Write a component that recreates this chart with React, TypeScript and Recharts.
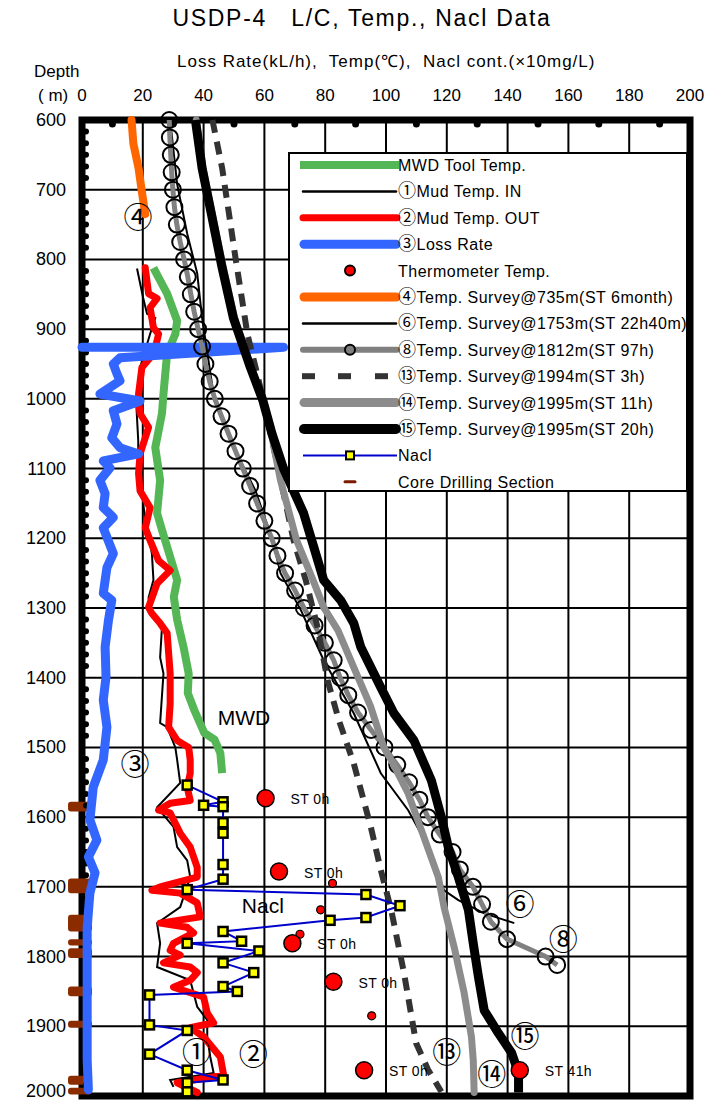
import React from "react";
import {
  CartesianGrid,
  ReferenceArea,
  ReferenceDot,
  Scatter,
  ScatterChart,
  XAxis,
  YAxis,
} from "recharts";

const xTicks = [0, 20, 40, 60, 80, 100, 120, 140, 160, 180, 200];
const yTicks = [600, 700, 800, 900, 1000, 1100, 1200, 1300, 1400, 1500, 1600, 1700, 1800, 1900, 2000];

const mwdTool = [
  [812, 23.5], [849, 28.0], [888, 31.3], [907, 30.7], [935, 28.0], [993, 26.8], [1021, 26.3],
  [1070, 24.1], [1117, 25.7], [1164, 24.7], [1188, 26.3], [1221, 28.6], [1260, 31.3], [1284, 30.2],
  [1317, 31.3], [1356, 33.4], [1394, 35.1], [1422, 34.8], [1446, 36.9], [1479, 40.2], [1489, 43.6],
  [1508, 45.5], [1537, 46.1],
];

const mudIn = [
  [813, 18.1], [855, 20.1], [878, 21.4], [884, 24.1], [907, 22.4], [955, 19.1], [1003, 17.8],
  [1060, 18.5], [1107, 18.5], [1132, 19.7], [1175, 20.8], [1222, 23.0], [1260, 23.5], [1285, 21.9],
  [1308, 22.4], [1328, 26.3], [1371, 25.7], [1394, 26.8], [1465, 25.7], [1471, 28.0], [1500, 30.7],
  [1518, 31.3], [1551, 32.3], [1586, 24.7], [1614, 30.1], [1643, 31.3], [1662, 34.6], [1686, 35.6],
  [1729, 32.3], [1752, 24.7], [1781, 25.7], [1815, 24.7], [1834, 35.6], [1872, 37.9], [1891, 41.2],
  [1915, 41.2], [1944, 42.2], [1967, 43.3], [1977, 29.0], [1987, 30.1],
];

const mudOut = [
  [812, 20.8], [849, 21.9], [856, 24.7], [869, 22.4], [898, 23.5], [907, 25.2], [927, 24.1],
  [941, 22.4], [955, 19.7], [993, 18.6], [1003, 18.6], [1021, 19.1], [1041, 21.9], [1079, 19.1],
  [1107, 18.6], [1132, 19.1], [1156, 22.4], [1185, 20.8], [1203, 22.4], [1232, 25.2], [1246, 29.0],
  [1265, 24.7], [1299, 21.9], [1308, 23.0], [1322, 25.7], [1336, 28.0], [1394, 29.0], [1437, 29.0],
  [1471, 28.5], [1490, 31.3], [1500, 35.1], [1518, 35.6], [1537, 35.6], [1557, 34.6], [1576, 35.6],
  [1580, 29.0], [1590, 25.2], [1594, 29.0], [1623, 32.3], [1643, 35.6], [1672, 37.9], [1686, 37.9],
  [1700, 25.7], [1705, 23.0], [1709, 32.3], [1723, 37.9], [1743, 38.9], [1752, 25.7], [1758, 34.6],
  [1766, 36.7], [1781, 30.1], [1791, 29.0], [1798, 32.3], [1809, 26.8], [1815, 35.6], [1823, 37.9],
  [1834, 35.6], [1844, 30.1], [1858, 40.0], [1881, 41.2], [1895, 43.3], [1902, 35.6], [1915, 40.0],
  [1944, 45.5], [1970, 46.6], [1981, 31.3], [1995, 37.9],
];

const lossRate = [
  [926, 0], [926, 66.3], [941, 12.5], [950, 10.3], [964, 11.5], [974, 12.5], [993, 5.9],
  [1003, 19.1], [1017, 10.3], [1036, 11.5], [1056, 9.8], [1070, 12.5], [1079, 18.6], [1089, 7.0],
  [1099, 9.2], [1117, 5.9], [1136, 7.6], [1156, 7.0], [1170, 10.3], [1185, 7.0], [1222, 10.3],
  [1242, 8.2], [1279, 7.0], [1289, 9.8], [1318, 8.7], [1356, 7.6], [1399, 7.9], [1432, 7.0],
  [1471, 8.2], [1518, 7.0], [1557, 3.7], [1604, 2.6], [1633, 4.9], [1657, 2.1], [1680, 4.3],
  [1709, 2.6], [1758, 1.7], [1948, 1.7], [1991, 2.1],
];

const thermoMain = [
  [1573, 60.4], [1678, 64.8], [1781, 69.2], [1836, 82.7], [1963, 92.8], [1963, 144.0],
];
const thermoLabels = ["ST 0h", "ST 0h", "ST 0h", "ST 0h", "ST 0h", "ST 41h"];
const thermoMinor = [
  [1695, 82.4], [1733, 78.5], [1768, 71.7], [1885, 95.3],
];

const survey735 = [
  [600, 16.3], [634, 16.9], [669, 18.6], [697, 19.5], [735, 20.8],
];

const survey1753 = [
  [600, 29.0], [692, 31.3], [763, 34.6], [820, 37.9], [884, 39.5], [1003, 43.6], [1060, 48.8],
  [1132, 57.1], [1203, 62.7], [1250, 65.3], [1303, 72.0], [1375, 79.5], [1451, 89.4], [1537, 98.3],
  [1590, 107.3], [1643, 113.9], [1705, 119.1], [1719, 123.8], [1738, 132.3], [1752, 142.2],
];

const survey1812 = [
  [600, 28.7], [625, 28.9], [650, 29.2], [675, 29.5], [700, 29.9], [725, 30.4], [750, 31.2],
  [775, 32.3], [800, 33.6], [825, 34.8], [850, 35.8], [875, 36.9], [900, 38.2], [925, 39.5],
  [950, 40.6], [975, 42.0], [1000, 43.7], [1025, 45.9], [1050, 48.2], [1075, 50.5], [1100, 52.9],
  [1125, 55.3], [1150, 57.6], [1175, 60.0], [1200, 62.4], [1225, 64.3], [1250, 66.8], [1275, 70.1],
  [1300, 73.0], [1325, 76.5], [1350, 79.9], [1375, 82.8], [1400, 84.9], [1425, 87.6], [1450, 90.8],
  [1475, 95.1], [1500, 99.5], [1525, 103.7], [1550, 107.6], [1575, 111.0], [1600, 113.8],
  [1625, 117.7], [1650, 121.9], [1675, 124.3], [1700, 128.6], [1725, 131.6], [1750, 134.5],
  [1775, 139.8], [1800, 152.5], [1812, 156.3],
];

const survey1994 = [
  [600, 42.9], [669, 46.1], [730, 48.2], [798, 50.5], [859, 52.7], [907, 54.4], [955, 57.1],
  [1003, 59.7], [1103, 64.7], [1203, 69.6], [1260, 73.6], [1328, 77.5], [1404, 80.8], [1461, 84.5],
  [1523, 89.4], [1614, 95.0], [1676, 98.3], [1733, 101.7], [1823, 105.9], [1924, 109.9],
  [1962, 113.8], [1994, 118.2],
];

const survey1995at11h = [
  [600, 37.6], [669, 39.8], [740, 43.1], [812, 46.5], [884, 50.2], [955, 55.6], [1001, 59.5],
  [1050, 62.3], [1117, 65.3], [1203, 70.6], [1260, 76.0], [1299, 79.5], [1332, 84.2], [1385, 89.4],
  [1442, 95.0], [1500, 99.3], [1518, 101.7], [1566, 107.3], [1629, 112.5], [1686, 117.2],
  [1729, 119.1], [1786, 122.4], [1852, 125.7], [1915, 128.1], [1948, 128.7], [1995, 129.0],
];

const survey1995at20h = [
  [600, 37.3], [669, 39.5], [740, 42.8], [812, 46.1], [884, 49.8], [955, 55.4], [1001, 59.4],
  [1050, 62.5], [1100, 66.3], [1164, 72.9], [1212, 76.2], [1260, 79.5], [1289, 85.1], [1322, 89.4],
  [1356, 91.7], [1414, 98.3], [1451, 102.6], [1490, 109.2], [1547, 114.9], [1600, 118.2],
  [1643, 120.5], [1686, 123.8], [1733, 127.1], [1781, 128.7], [1829, 130.4], [1877, 132.3],
  [1910, 137.0], [1938, 141.3], [1967, 143.6], [1995, 143.6],
];

const nacl = [
  [1554, 34.6], [1578, 46.4], [1583, 40.0], [1585, 46.4], [1608, 46.4], [1623, 46.4], [1668, 46.4],
  [1689, 46.4], [1704, 34.6], [1711, 93.4], [1727, 104.6], [1744, 93.4], [1748, 81.6], [1764, 46.4],
  [1778, 52.5], [1781, 34.6], [1792, 58.2], [1809, 46.4], [1823, 56.5], [1843, 46.4], [1850, 51.1],
  [1855, 22.2], [1898, 22.2], [1906, 34.6], [1940, 22.2], [1963, 34.6], [1977, 46.4], [1981, 34.6],
  [1994, 34.6],
];

// core drilling intervals [top, bottom] in m
const coreSections = [
  [1578, 1592], [1688, 1709], [1740, 1764], [1775, 1784], [1788, 1802], [1843, 1857],
  [1892, 1902], [1971, 1984], [1988, 1998],
];

// curve labels: [value, depth, text]
const notes: [number, number, string][] = [
  [18.4, 741, "④"], [17.4, 1525, "③"], [37.7, 1939, "①"], [56.3, 1941, "②"],
  [144.1, 1726, "⑥"], [158.3, 1776, "⑧"], [145.7, 1915, "⑮"], [120.0, 1939, "⑬"],
  [134.8, 1970, "⑭"],
];
const words: [number, number, string][] = [
  [53.3, 1457, "MWD"], [59.5, 1726, "Nacl"],
];

const topBumps = [10, 30, 50, 70, 90, 110, 130, 150, 170, 190];
const leftBumps = Array.from({ length: 84 }, (_, i) => 600 + (i * 100) / 6).filter(
  (d) => d % 100 !== 0
);

const toPts = (rows: number[][]) => rows.map(([d, v]) => ({ d, v }));

const FONT = "'Liberation Sans', Arial, sans-serif";
const CIRCLED = "'Noto Sans CJK JP', 'DejaVu Sans', sans-serif";

const NoDot = () => <g />;
const RingDot = (p: any) => (
  <circle cx={p.cx} cy={p.cy} r={8} fill="none" stroke="#000" strokeWidth={2} />
);
const NaclDot = (p: any) => (
  <rect x={p.cx - 4.5} y={p.cy - 4.5} width={9} height={9} fill="#ffff00" stroke="#000" strokeWidth={2.5} />
);
const ThermoBig = (p: any) => (
  <g>
    <circle cx={p.cx} cy={p.cy} r={8.5} fill="#ff0000" stroke="#000" strokeWidth={1.5} />
    <text x={p.cx + 25} y={p.cy + 6} fontSize={14} fontFamily={FONT} fill="#000" letterSpacing={0.4}>
      {p.payload?.label}
    </text>
  </g>
);
const ThermoSmall = (p: any) => (
  <circle cx={p.cx} cy={p.cy} r={4} fill="#ff0000" stroke="#000" strokeWidth={1.2} />
);

const XTick = (p: any) => (
  <text x={p.x} y={101} textAnchor="middle" fontSize={17} fontFamily={FONT} fill="#000">
    {p.payload.value}
  </text>
);
const YTick = (p: any) => (
  <text x={66} y={Math.min(p.y + 6, 1097)} textAnchor="end" fontSize={18} fontFamily={FONT} fill="#000">
    {p.payload.value}
  </text>
);

const legendRows = [
  "MWD Tool Temp.",
  "①Mud Temp. IN",
  "②Mud Temp. OUT",
  "③Loss Rate",
  "Thermometer Temp.",
  "④Temp. Survey@735m(ST 6month)",
  "⑥Temp. Survey@1753m(ST 22h40m)",
  "⑧Temp. Survey@1812m(ST 97h)",
  "⑬Temp. Survey@1994m(ST 3h)",
  "⑭Temp. Survey@1995m(ST 11h)",
  "⑮Temp. Survey@1995m(ST 20h)",
  "Nacl",
  "Core Drilling Section",
];

// split a leading circled number so it can use a font with full-size glyphs
const LegendLabel = ({ label }: { label: string }) => {
  const first = label.charCodeAt(0);
  if (first >= 0x2460 && first <= 0x2473) {
    return (
      <>
        <tspan fontFamily={CIRCLED} fontSize={18}>{label[0]}</tspan>
        <tspan>{label.slice(1)}</tspan>
      </>
    );
  }
  return <>{label}</>;
};

function LegendBox() {
  const rowY = (i: number) => 11 + i * 26.4;
  const sample = (i: number) => {
    const y = rowY(i);
    switch (i) {
      case 0:
        return <line x1={10} x2={109} y1={y} y2={y} stroke="#55b655" strokeWidth={8} />;
      case 1:
      case 6:
        return <line x1={13} x2={106} y1={y} y2={y} stroke="#000" strokeWidth={2.5} strokeLinecap="round" />;
      case 2:
        return <line x1={13} x2={107} y1={y} y2={y} stroke="#ff0000" strokeWidth={7} strokeLinecap="round" />;
      case 3:
        return <line x1={14} x2={106} y1={y} y2={y} stroke="#3366ff" strokeWidth={9} strokeLinecap="round" />;
      case 4:
        return <circle cx={60} cy={y} r={5} fill="#ff0000" stroke="#000" strokeWidth={2} />;
      case 5:
        return <line x1={14} x2={106} y1={y} y2={y} stroke="#ff6600" strokeWidth={9} strokeLinecap="round" />;
      case 7:
        return (
          <g>
            <line x1={13} x2={107} y1={y} y2={y} stroke="#808080" strokeWidth={6} strokeLinecap="round" />
            <circle cx={60} cy={y} r={5} fill="#808080" stroke="#000" strokeWidth={2} />
          </g>
        );
      case 8:
        return (
          <g fill="#333">
            <rect x={12} y={y - 3} width={13} height={6} />
            <rect x={48} y={y - 3} width={13} height={6} />
            <rect x={85} y={y - 3} width={13} height={6} />
          </g>
        );
      case 9:
        return <line x1={14} x2={106} y1={y} y2={y} stroke="#8c8c8c" strokeWidth={9} strokeLinecap="round" />;
      case 10:
        return <line x1={14} x2={106} y1={y} y2={y} stroke="#000" strokeWidth={10} strokeLinecap="round" />;
      case 11:
        return (
          <g>
            <line x1={13} x2={107} y1={y} y2={y} stroke="#0000cc" strokeWidth={2} />
            <rect x={56} y={y - 4} width={8} height={8} fill="#ffff00" stroke="#000" strokeWidth={2} />
          </g>
        );
      default:
        return <line x1={55} x2={65} y1={y} y2={y} stroke="#7b1a00" strokeWidth={3} strokeLinecap="round" />;
    }
  };
  return (
    <div
      style={{
        position: "absolute",
        left: 288,
        top: 152,
        width: 400,
        height: 340,
        boxSizing: "border-box",
        border: "2px solid #000",
        background: "#fff",
      }}
    >
      <svg width={396} height={336} style={{ position: "absolute", left: 0, top: 0 }}>
        {legendRows.map((label, i) => (
          <g key={label}>
            {sample(i)}
            <text x={108} y={rowY(i) + 6} fontSize={16} fontFamily={FONT} letterSpacing={0.5} fill="#000">
              <LegendLabel label={label} />
            </text>
          </g>
        ))}
      </svg>
    </div>
  );
}

export default function App() {
  return (
    <div style={{ position: "absolute", left: 0, top: 0, width: 711, height: 1102, background: "#fff" }}>
      <div
        style={{
          position: "absolute",
          left: 0,
          width: 724,
          top: 5,
          textAlign: "center",
          fontFamily: FONT,
          fontSize: 23,
          letterSpacing: 1.7,
          whiteSpace: "pre",
        }}
      >
        {"USDP-4   L/C, Temp., Nacl Data"}
      </div>
      <div
        style={{
          position: "absolute",
          left: 177,
          top: 49,
          fontFamily: FONT,
          fontSize: 17,
          letterSpacing: 1,
          whiteSpace: "pre",
        }}
      >
        {"Loss Rate(kL/h),  Temp(℃),  Nacl cont.(×10mg/L)"}
      </div>
      <div style={{ position: "absolute", left: 34, top: 62, fontFamily: FONT, fontSize: 17 }}>Depth</div>
      <div style={{ position: "absolute", left: 38, top: 86, fontFamily: FONT, fontSize: 17, whiteSpace: "pre" }}>
        {"( m)"}
      </div>

      <ScatterChart width={711} height={1102} margin={{ top: 90, right: 21, bottom: 6, left: 0 }}>
        <CartesianGrid stroke="#000" strokeWidth={2} />
        <XAxis
          type="number"
          dataKey="v"
          domain={[0, 200]}
          ticks={xTicks}
          interval={0}
          orientation="top"
          height={30}
          axisLine={false}
          tickLine={false}
          tick={<XTick />}
        />
        <YAxis
          type="number"
          dataKey="d"
          domain={[600, 2000]}
          ticks={yTicks}
          interval={0}
          reversed
          width={82}
          axisLine={false}
          tickLine={false}
          tick={<YTick />}
        />

        <ReferenceArea x1={0} x2={200} y1={600} y2={2000} fill="none" stroke="#000" strokeWidth={7} ifOverflow="visible" />
        {topBumps.map((v) => (
          <ReferenceDot
            key={`t${v}`}
            x={v}
            y={600}
            ifOverflow="visible"
            shape={(p: any) => <circle cx={p.cx} cy={p.cy + 4} r={3.5} fill="#000" />}
          />
        ))}
        {leftBumps.map((d) => (
          <ReferenceDot
            key={`l${d}`}
            x={0}
            y={d}
            ifOverflow="visible"
            shape={(p: any) => <circle cx={p.cx + 4} cy={p.cy} r={3} fill="#000" />}
          />
        ))}

        <Scatter data={toPts(mwdTool)} shape={NoDot} isAnimationActive={false}
          line={{ stroke: "#55b655", strokeWidth: 8, strokeLinejoin: "miter" }} />
        <Scatter data={toPts(mudIn)} shape={NoDot} isAnimationActive={false}
          line={{ stroke: "#000", strokeWidth: 2 }} />
        <Scatter data={toPts(mudOut)} shape={NoDot} isAnimationActive={false}
          line={{ stroke: "#ff0000", strokeWidth: 7, strokeLinejoin: "round", strokeLinecap: "round" }} />
        <Scatter data={toPts(lossRate)} shape={NoDot} isAnimationActive={false}
          line={{ stroke: "#3366ff", strokeWidth: 9, strokeLinejoin: "round", strokeLinecap: "round" }} />
        <Scatter data={toPts(survey735)} shape={NoDot} isAnimationActive={false}
          line={{ stroke: "#ff6600", strokeWidth: 8, strokeLinejoin: "round", strokeLinecap: "round" }} />
        <Scatter data={toPts(survey1753)} shape={NoDot} isAnimationActive={false}
          line={{ stroke: "#000", strokeWidth: 2 }} />
        <Scatter data={toPts(survey1812)} shape={RingDot} isAnimationActive={false}
          line={{ stroke: "#808080", strokeWidth: 5, strokeLinejoin: "round" }} />
        <Scatter data={toPts(survey1994)} shape={NoDot} isAnimationActive={false}
          line={{ stroke: "#333", strokeWidth: 6, strokeDasharray: "13 9" }} />
        <Scatter data={toPts(survey1995at11h)} shape={NoDot} isAnimationActive={false}
          line={{ stroke: "#8c8c8c", strokeWidth: 7, strokeLinejoin: "round", strokeLinecap: "round" }} />
        <Scatter data={toPts(survey1995at20h)} shape={NoDot} isAnimationActive={false}
          line={{ stroke: "#000", strokeWidth: 9, strokeLinejoin: "round" }} />
        <Scatter data={toPts(nacl)} shape={NaclDot} isAnimationActive={false}
          line={{ stroke: "#0000cc", strokeWidth: 2 }} />
        <Scatter data={toPts(thermoMinor)} shape={ThermoSmall} isAnimationActive={false} />
        <Scatter
          data={thermoMain.map(([d, v], i) => ({ d, v, label: thermoLabels[i] }))}
          shape={ThermoBig}
          isAnimationActive={false}
        />

        {coreSections.map(([top, bottom]) => (
          <ReferenceArea
            key={`c${top}`}
            x1={-4.6}
            x2={3.3}
            y1={top}
            y2={bottom}
            fill="#8b2c00"
            fillOpacity={1}
            radius={3}
            ifOverflow="visible"
          />
        ))}

        {notes.map(([v, d, t]) => (
          <ReferenceDot
            key={t}
            x={v}
            y={d}
            ifOverflow="visible"
            shape={(p: any) => (
              <text x={p.cx} y={p.cy + 10} textAnchor="middle" fontSize={29} fontFamily={CIRCLED} fill="#000">
                {t}
              </text>
            )}
          />
        ))}
        {words.map(([v, d, t]) => (
          <ReferenceDot
            key={t}
            x={v}
            y={d}
            ifOverflow="visible"
            shape={(p: any) => (
              <text x={p.cx} y={p.cy + 8} textAnchor="middle" fontSize={21} fontFamily={FONT} fill="#000">
                {t}
              </text>
            )}
          />
        ))}
      </ScatterChart>
      <LegendBox />
    </div>
  );
}
